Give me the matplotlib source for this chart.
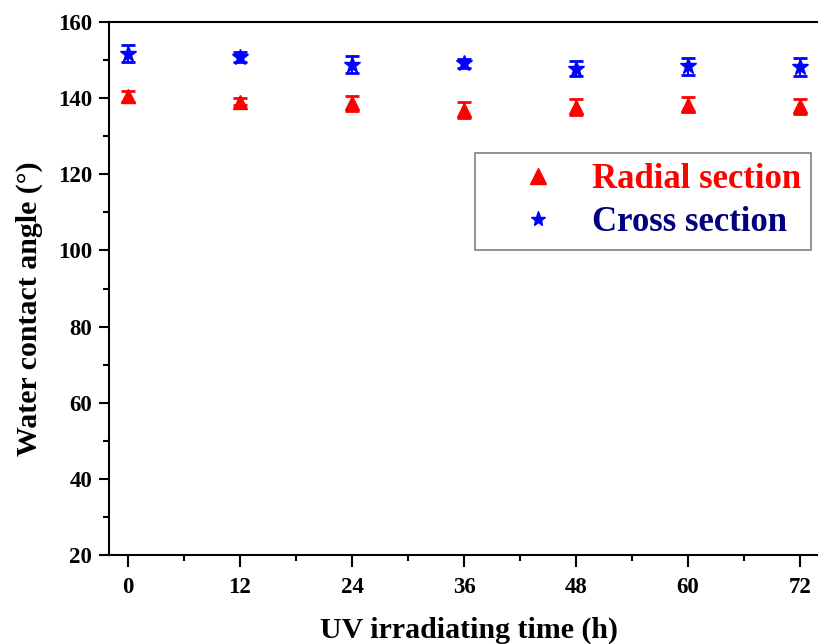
import matplotlib
matplotlib.use("Agg")
import matplotlib.pyplot as plt
from matplotlib.lines import Line2D
from matplotlib.ticker import MultipleLocator

plt.rcParams["font.family"] = "Liberation Serif"
plt.rcParams["font.weight"] = "bold"

# UV irradiation time (h)
time_h = [0, 12, 24, 36, 48, 60, 72]

# water contact angle (deg) and error
radial_angle = [140.5, 139.1, 138.6, 136.9, 137.7, 138.3, 137.9]
radial_err = [1.4, 1.0, 2.0, 2.2, 2.0, 2.0, 2.0]
cross_angle = [151.7, 150.8, 148.8, 149.1, 147.7, 148.4, 148.2]
cross_err = [2.3, 1.4, 2.2, 1.2, 2.0, 2.2, 2.4]

RED = "#ff0000"
BLUE = "#0000ff"
NAVY = "#000080"

fig = plt.figure(figsize=(8.18, 6.44), dpi=100)
W, H = 818, 644
ax = fig.add_axes([109 / W, 89 / H, (830 - 109) / W, 533 / H])

ax.errorbar(time_h, radial_angle, yerr=radial_err, fmt="^", color=RED,
            markersize=10.5, capsize=5, capthick=2, elinewidth=1.5, zorder=3)
ax.errorbar(time_h, cross_angle, yerr=cross_err, fmt="*", color=BLUE,
            markersize=12, capsize=5, capthick=2, elinewidth=1.5, zorder=3)

# right spine falls outside the picture, as in the original
ax.set_xlim(-2.04, (830 - 128) / 9.333)
ax.set_ylim(20, 160)
ax.xaxis.set_major_locator(MultipleLocator(12))
ax.xaxis.set_minor_locator(MultipleLocator(6))
ax.yaxis.set_major_locator(MultipleLocator(20))
ax.yaxis.set_minor_locator(MultipleLocator(10))
ax.tick_params(which="major", direction="out", length=7, width=1.5,
               labelsize=16.5)
ax.tick_params(axis="x", which="major", length=8.5, pad=7)
ax.tick_params(axis="y", which="major", pad=5)
ax.tick_params(which="minor", direction="out", length=4.5, width=1.5)
for side in ("left", "bottom", "top"):
    ax.spines[side].set_linewidth(1.5)
ax.spines["right"].set_visible(False)

ax.set_xlabel("UV irradiating time (h)", fontsize=21.5, fontweight="bold",
              labelpad=14)
ax.set_ylabel("Water contact angle (°)", fontsize=21.5, fontweight="bold")
ax.yaxis.set_label_coords(-0.091, 0.463)

handles = [
    Line2D([0], [0], marker="^", linestyle="none", color=RED, markersize=11),
    Line2D([0], [0], marker="*", linestyle="none", color=BLUE, markersize=11),
]
leg = ax.legend(handles, ["Radial section", "Cross section"],
                loc="upper left", bbox_to_anchor=(0.508, 0.755),
                prop={"family": "Liberation Serif", "weight": "bold",
                      "size": 25},
                fancybox=False, edgecolor="#808080", framealpha=1,
                borderpad=0.3, handletextpad=0.05, labelspacing=0.3,
                borderaxespad=0, handlelength=3.0)
leg.get_frame().set_linewidth(1.2)
for txt, col in zip(leg.get_texts(), [RED, NAVY]):
    txt.set_color(col)

fig.savefig("out.png", dpi=100)
